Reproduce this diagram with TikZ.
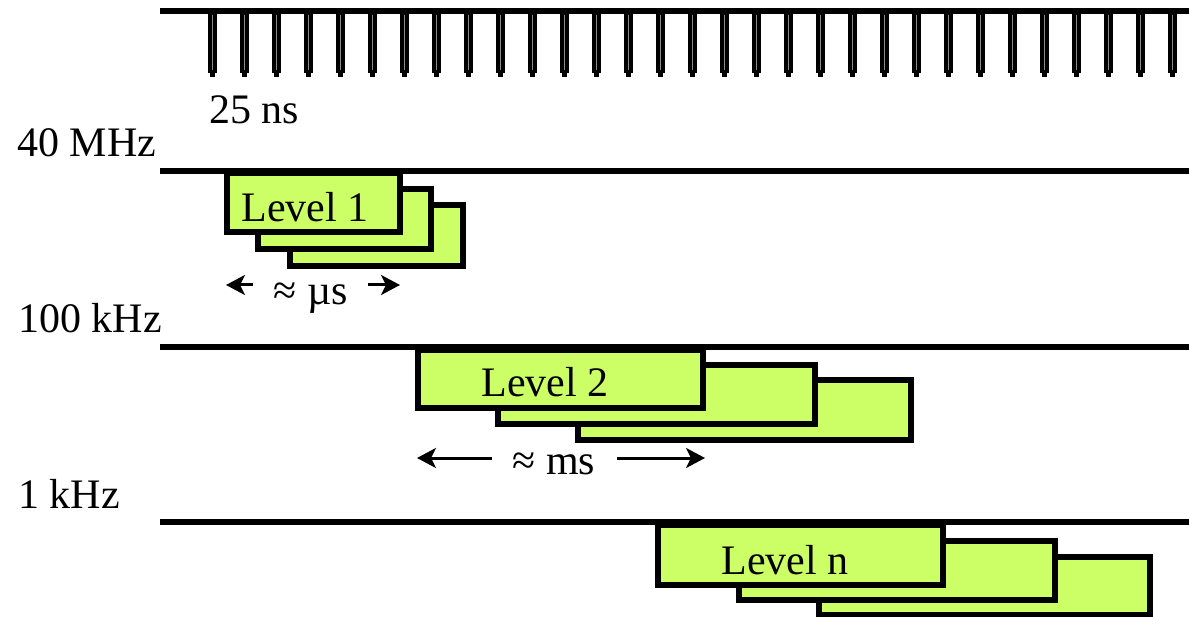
\documentclass[tikz,border=0pt]{standalone}
\usepackage{fontspec}
\setmainfont{Liberation Serif}
\usetikzlibrary{arrows.meta}
\definecolor{lvlgreen}{HTML}{CCFF66}
\begin{document}
\begin{tikzpicture}[x=1pt,y=-1pt,
  every node/.style={font=\fontsize{42}{46}\selectfont, inner sep=0pt},
  rail/.style={line width=6pt},
  tick/.style={fill=black},
  tickcore/.style={line width=0.7pt, draw=black!45},
  lvlbox/.style={draw=black, fill=lvlgreen, line width=5.5pt},
  span/.style={line width=3pt, -{Stealth[length=19pt,width=20pt,inset=5pt]}}]
\useasboundingbox (0,0) rectangle (1189,617);
% rails
\draw[rail] (160,11) -- (1189,11);
\draw[rail] (160,171) -- (1189,171);
\draw[rail] (160,347) -- (1189,347);
\draw[rail] (160,522) -- (1189,522);
% clock ticks
\foreach \i in {0,...,30}{
  \fill[tick] (207.5+32*\i,11) rectangle (216.5+32*\i,73);
  \fill[tick] (209.5+32*\i,72) rectangle (214.5+32*\i,77);
  \draw[tickcore] (212+32*\i,15) -- (212+32*\i,70);
}
% labels
\node[anchor=base west] (l25) at (209,124) {25 ns};
\node[anchor=base west] (l40) at (17,157) {40 MHz};
\node[anchor=base west] (l100) at (18,333) {100 kHz};
\node[anchor=base west] (l1k) at (18,508) {1 kHz};
% Level 1
\draw[lvlbox] (290,205) rectangle (463,266);
\draw[lvlbox] (258,189) rectangle (431,249);
\draw[lvlbox] (227,173) rectangle (400,232);
\node[anchor=base] (t1) at (305,222) {Level 1};
% Level 2
\draw[lvlbox] (578,380) rectangle (911,440);
\draw[lvlbox] (498,365) rectangle (815,424);
\draw[lvlbox] (418,350) rectangle (703,408);
\node[anchor=base] (t2) at (545,397) {Level 2};
% Level n
\draw[lvlbox] (819,557) rectangle (1150,615);
\draw[lvlbox] (739,541) rectangle (1055,600);
\draw[lvlbox] (658,525) rectangle (943,585);
\node[anchor=base] (tn) at (785,574) {Level n};
% spans
\node[anchor=base] (us) at (311,305) {≈ µs};
\coordinate (a1l) at (226,285);
\coordinate (a1r) at (400,285);
\draw[span] (253,285) -- (a1l);
\draw[span] (368,285) -- (a1r);
\node[anchor=base] (ms) at (554,475) {≈ ms};
\coordinate (a2l) at (417,458);
\coordinate (a2r) at (705,458);
\draw[span] (492,458) -- (a2l);
\draw[span] (617,458) -- (a2r);
\end{tikzpicture}
\end{document}
